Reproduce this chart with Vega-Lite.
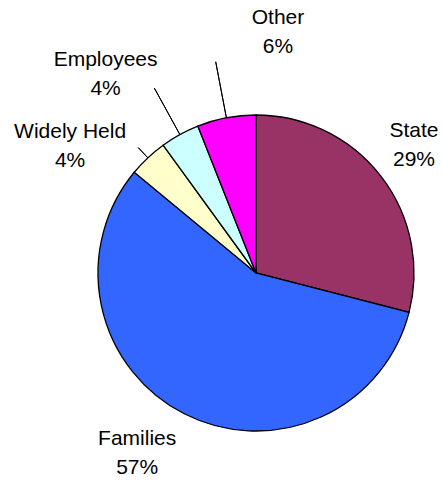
{
  "$schema": "https://vega.github.io/schema/vega-lite/v6.json",
  "width": 372,
  "height": 418,
  "autosize": {"type": "none"},
  "padding": {"left": 70, "top": 64, "right": 0, "bottom": 0},
  "background": "white",
  "config": {"view": {"stroke": null}},
  "data": {"values": [
    {"idx": 1, "label": "State", "value": 29, "caption": "State\n29%"},
    {"idx": 2, "label": "Families", "value": 57, "caption": "Families\n57%"},
    {"idx": 3, "label": "Widely Held", "value": 4, "caption": "Widely Held\n4%"},
    {"idx": 4, "label": "Employees", "value": 4, "caption": "Employees\n4%"},
    {"idx": 5, "label": "Other", "value": 6, "caption": "Other\n6%"}
  ]},
  "encoding": {
    "theta": {"field": "value", "type": "quantitative", "stack": true},
    "order": {"field": "idx", "type": "quantitative"}
  },
  "layer": [
    {
      "mark": {"type": "arc", "radius": 158, "stroke": "black", "strokeWidth": 1.3},
      "encoding": {
        "color": {"field": "label", "type": "nominal",
          "scale": {"domain": ["State", "Families", "Widely Held", "Employees", "Other"],
                    "range": ["#993366", "#3366FF", "#FFFFCC", "#CCFFFF", "#FF00FF"]},
          "legend": null}
      }
    },
    {
      "mark": {"type": "arc", "radius": 215, "radius2": 158, "padAngle": 1.2, "filled": false, "stroke": "black", "strokeWidth": 1},
      "encoding": {"detail": {"field": "label"},
        "strokeOpacity": {"condition": {"test": "datum.label === 'Other'", "value": 1}, "value": 0}}
    },
    {
      "mark": {"type": "arc", "radius": 211, "radius2": 158, "padAngle": 1.2, "filled": false, "stroke": "black", "strokeWidth": 1},
      "encoding": {"detail": {"field": "label"},
        "strokeOpacity": {"condition": {"test": "datum.label === 'Employees'", "value": 1}, "value": 0}}
    },
    {
      "mark": {"type": "arc", "radius": 172, "radius2": 158, "padAngle": 1.2, "filled": false, "stroke": "black", "strokeWidth": 1},
      "encoding": {"detail": {"field": "label"},
        "strokeOpacity": {"condition": {"test": "datum.label === 'Widely Held'", "value": 1}, "value": 0}}
    },
    {
      "mark": {"type": "text", "radius": 200, "dx": 0, "dy": -19.5, "font": "Liberation Sans", "fontSize": 21, "lineHeight": 29, "lineBreak": "\n", "align": "center", "baseline": "middle", "color": "black"},
      "encoding": {"detail": {"field": "label"},
        "text": {"condition": {"test": "datum.label === 'State'", "field": "caption"}, "value": ""}}
    },
    {
      "mark": {"type": "text", "radius": 200, "dx": -28, "dy": -12.5, "font": "Liberation Sans", "fontSize": 21, "lineHeight": 29, "lineBreak": "\n", "align": "center", "baseline": "middle", "color": "black"},
      "encoding": {"detail": {"field": "label"},
        "text": {"condition": {"test": "datum.label === 'Families'", "field": "caption"}, "value": ""}}
    },
    {
      "mark": {"type": "text", "radius": 200, "dx": -49, "dy": 4.5, "font": "Liberation Sans", "fontSize": 21, "lineHeight": 29, "lineBreak": "\n", "align": "center", "baseline": "middle", "color": "black"},
      "encoding": {"detail": {"field": "label"},
        "text": {"condition": {"test": "datum.label === 'Widely Held'", "field": "caption"}, "value": ""}}
    },
    {
      "mark": {"type": "text", "radius": 225, "dx": -42, "dy": -15.5, "font": "Liberation Sans", "fontSize": 21, "lineHeight": 29, "lineBreak": "\n", "align": "center", "baseline": "middle", "color": "black"},
      "encoding": {"detail": {"field": "label"},
        "text": {"condition": {"test": "datum.label === 'Employees'", "field": "caption"}, "value": ""}}
    },
    {
      "mark": {"type": "text", "radius": 240, "dx": 67, "dy": -19.5, "font": "Liberation Sans", "fontSize": 21, "lineHeight": 29, "lineBreak": "\n", "align": "center", "baseline": "middle", "color": "black"},
      "encoding": {"detail": {"field": "label"},
        "text": {"condition": {"test": "datum.label === 'Other'", "field": "caption"}, "value": ""}}
    }
  ]
}
